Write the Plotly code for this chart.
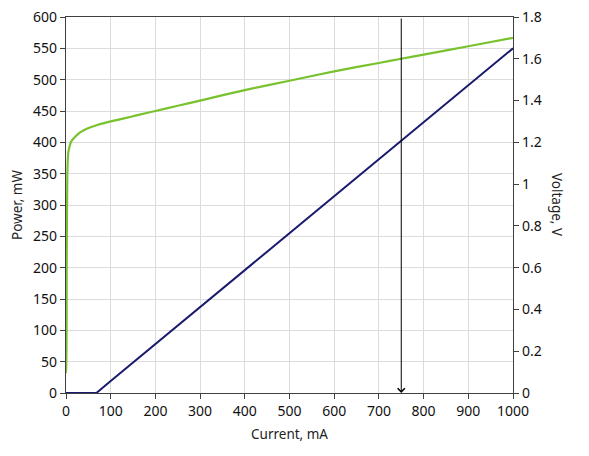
import plotly.graph_objects as go

current_v = [0, 0.3, 1.5, 3, 5, 8, 12, 20, 30, 40, 55, 70, 85, 100, 130, 160, 200, 250, 300,
             400, 500, 600, 700, 750, 800, 900, 1000]
voltage = [0.10, 0.10, 0.6, 1.05, 1.15, 1.18, 1.205, 1.225, 1.245, 1.258, 1.272, 1.283, 1.292,
           1.30, 1.315, 1.33, 1.35, 1.375, 1.40, 1.45, 1.495, 1.54, 1.58, 1.60, 1.62, 1.66, 1.70]

current_p = [0, 30, 68, 100, 200, 300, 400, 500, 600, 700, 750, 800, 900, 1000]
power = [0, 0, 0, 19, 78, 137, 197, 256, 315, 374, 402, 432, 491, 550]

marker_current = 750

GREEN = "#78C22E"
NAVY = "#1A1A6E"
AX = "#404040"
GRID = "#DCDCDC"
FONT = "Noto Sans"

fig = go.Figure()
fig.add_trace(go.Scatter(x=current_v, y=voltage, yaxis="y2", mode="lines",
                         line=dict(color=GREEN, width=2.2, shape="spline", smoothing=0.6),
                         showlegend=False))
fig.add_trace(go.Scatter(x=current_p, y=power, mode="lines",
                         line=dict(color=NAVY, width=2), showlegend=False))

axcommon = dict(showline=True, linecolor=AX, linewidth=1.3, ticks="outside", ticklen=5,
                tickcolor=AX, tickwidth=1, showgrid=True, gridcolor=GRID, gridwidth=1,
                zeroline=False, automargin=False,
                tickfont=dict(family=FONT, size=14, color="#111"))

fig.update_layout(
    width=589, height=456,
    margin=dict(l=66, r=76, t=17, b=63),
    paper_bgcolor="white", plot_bgcolor="white",
    font=dict(family=FONT, size=13, color="#222"),
    xaxis=dict(range=[0, 1000], dtick=100, mirror=True,
               title=dict(text="Current, mA", font=dict(family=FONT, size=13.5, color="#222"),
                          standoff=10),
               **axcommon),
    yaxis=dict(range=[0, 600], dtick=50,
               title=dict(text="Power, mW", font=dict(family=FONT, size=13.5, color="#222"),
                          standoff=7),
               **axcommon),
    yaxis2=dict(range=[0, 1.8], dtick=0.2, overlaying="y", side="right",
                **{**axcommon, "showgrid": False}),
    annotations=[
        dict(x=marker_current, y=0, xref="x", yref="y", ax=marker_current, ay=600,
             axref="x", ayref="y", showarrow=True, arrowhead=4, arrowsize=1.4,
             arrowwidth=1, arrowcolor="black", text="", standoff=0),
        dict(x=1.0, y=0.5, xref="paper", yref="paper", xanchor="left", yanchor="middle",
             xshift=33, text="Voltage, V", textangle=90, showarrow=False,
             font=dict(family=FONT, size=13.5, color="#222")),
    ],
)

fig.write_html("out.html", config={"displayModeBar": False},
               post_script="document.body.style.margin='0';")
